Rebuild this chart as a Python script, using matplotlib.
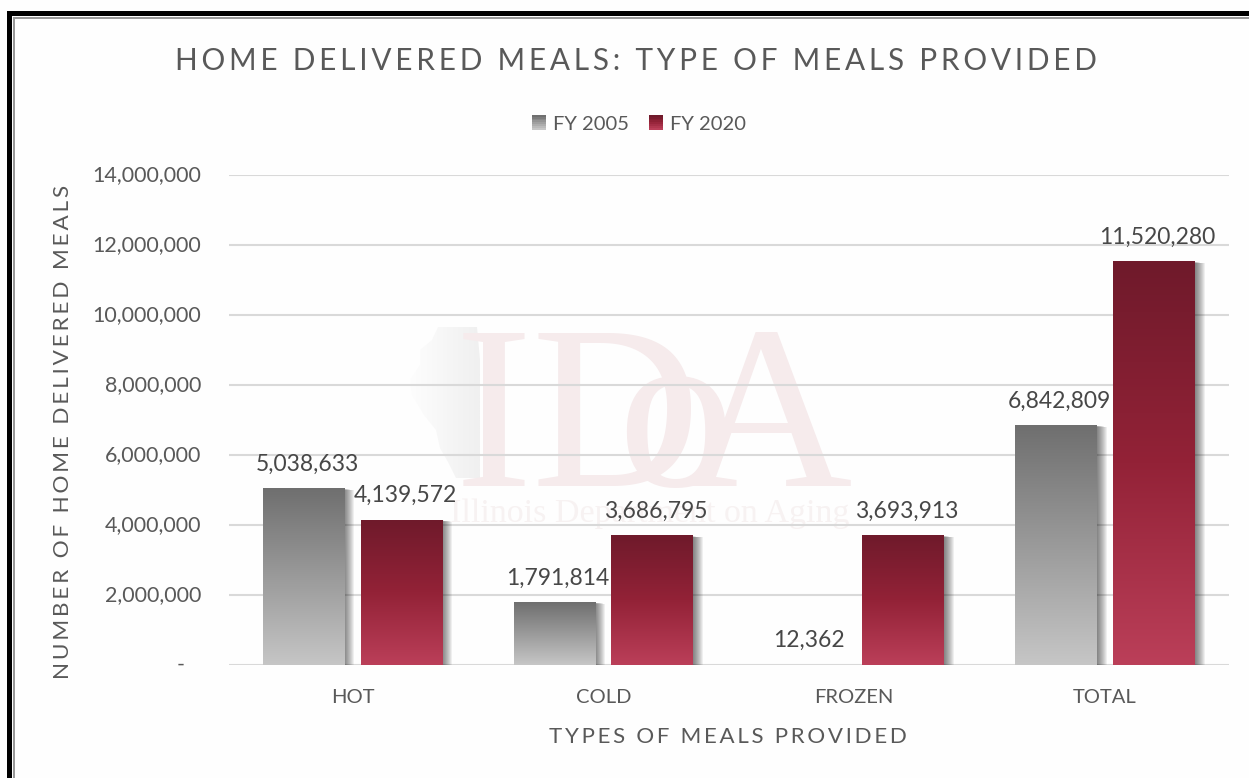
import numpy as np
import matplotlib
matplotlib.use("Agg")
import matplotlib.pyplot as plt
import matplotlib.patheffects as pe
from matplotlib.colors import LinearSegmentedColormap
from matplotlib.legend_handler import HandlerBase
from matplotlib.patches import Patch, Polygon, Rectangle
from matplotlib.ticker import FuncFormatter
from matplotlib.transforms import ScaledTranslation

plt.rcParams['font.family'] = ['Lato', 'DejaVu Sans']

# data
categories = ["HOT", "COLD", "FROZEN", "TOTAL"]
fy2005 = [5038633, 1791814, 12362, 6842809]
fy2020 = [4139572, 3686795, 3693913, 11520280]
y_ticks = [0, 2000000, 4000000, 6000000, 8000000, 10000000, 12000000, 14000000]

title = "HOME DELIVERED MEALS: TYPE OF MEALS PROVIDED"
x_title = "TYPES OF MEALS PROVIDED"
y_title = "NUMBER OF HOME DELIVERED MEALS"

gray_cmap = LinearSegmentedColormap.from_list("gray", ["#6f6f6f", "#9a9a9a", "#c6c6c6"])
red_cmap = LinearSegmentedColormap.from_list("red", ["#6f1a2b", "#932237", "#bb3f59"])

W, H = 1249, 778


def spaced(text, gap="\u2009"):
    # the chart has letter spacing, matplotlib has none
    return gap.join(text)


def fx(px):
    return px / W


def fy(px):
    return 1 - px / H


class GradientHandler(HandlerBase):
    def __init__(self, cmap):
        super().__init__()
        self.cmap = cmap

    def create_artists(self, legend, orig, xd, yd, width, height, fontsize, trans):
        n = 8
        return [Rectangle((-xd, -yd + height * (n - 1 - i) / n), width, height / n + 0.2,
                          facecolor=self.cmap(i / (n - 1)), lw=0, transform=trans)
                for i in range(n)]


def gradient_bars(ax, xs, values, width, cmap):
    grad = np.linspace(0, 1, 256).reshape(-1, 1)
    bars = ax.bar(xs, values, width, color=cmap(1.0), zorder=3)
    for b in bars:
        # the almost empty frozen bar stays a pale line
        if b.get_height() < 50000:
            b.set_alpha(0.4)
            continue
        # soft shadow to the right of the bar
        b.set_path_effects([pe.SimplePatchShadow(offset=(k * 0.72, -k * 0.1), shadow_rgbFace="#000000",
                                                 alpha=0.06) for k in range(10, 0, -1)] + [pe.Normal()])
        ax.imshow(grad, cmap=cmap, aspect="auto", zorder=4, vmin=0, vmax=1,
                  extent=(b.get_x(), b.get_x() + b.get_width(), 0, b.get_height()))
    return bars


fig = plt.figure(figsize=(W / 100, H / 100), dpi=100, facecolor="#fefefe")

# picture frame, open at the right and at the bottom
fig.add_artist(Rectangle((fx(7), 0), fx(5), fy(11), color="black", lw=0))
fig.add_artist(Rectangle((fx(7), fy(16)), 1, fy(11) - fy(16), color="black", lw=0))
fig.add_artist(Rectangle((fx(13), 0), fx(1.5), fy(17), color="#999999", lw=0))
fig.add_artist(Rectangle((fx(13), fy(18.5)), 1, fy(17) - fy(18.5), color="#999999", lw=0))

# watermark, the state fades out to the left
bg = fig.add_axes([0, 0, 1, 1], zorder=-1)
bg.set_xlim(0, W)
bg.set_ylim(H, 0)
bg.axis("off")
state = [(438, 327), (477, 327), (480, 360), (480, 478), (456, 478), (448, 462), (440, 448), (436, 430),
         (424, 415), (412, 395), (410, 380), (420, 365), (420, 350), (432, 340)]
state_patch = Polygon(state, closed=True, facecolor="none", lw=0)
bg.add_patch(state_patch)
fade = LinearSegmentedColormap.from_list("fade", ["#fdfdfd", "#f0f0f0"])
im = bg.imshow(np.linspace(0, 1, 64).reshape(1, -1), cmap=fade, aspect="auto", extent=(410, 480, 478, 327))
im.set_clip_path(state_patch)
bg.set_xlim(0, W)
bg.set_ylim(H, 0)
wm = dict(family="Liberation Serif", color="#f6ebec", ha="left", va="baseline", zorder=-1)
fig.text(fx(455), fy(486), "ID", fontsize=168, **wm)
fig.text(fx(617), fy(486), "o", fontsize=168, **wm)
fig.text(fx(684), fy(486), "A", fontsize=168, **wm)
fig.text(fx(450), fy(522), "Illinois Department on Aging", fontsize=24.5, family="Liberation Serif",
         color="#f7f2f2", ha="left", va="baseline", zorder=-1)

ax = fig.add_axes([fx(229), fy(665), fx(1000), fy(175) - fy(665)])
ax.patch.set_alpha(0)

x = np.arange(len(categories))
bar_w = 0.326
off = 0.195
gradient_bars(ax, x - off, fy2005, bar_w, gray_cmap)
gradient_bars(ax, x + off, fy2020, bar_w, red_cmap)

for xs, vals in [(x - off, fy2005), (x + off, fy2020)]:
    for xi, v in zip(xs, vals):
        ax.annotate(f"{v:,}", (xi, v), xytext=(2.5, 10), textcoords="offset points", ha="center", va="bottom",
                    fontsize=16.5, color="#474747", zorder=6)

ax.set_xlim(-0.4924, 3.494)
ax.set_ylim(0, 14000000)
ax.set_yticks(y_ticks)
ax.yaxis.set_major_formatter(FuncFormatter(lambda v, p: f"{int(v):,}" if v else "-   "))
ax.set_xticks(x, categories)
ax.grid(axis="y", color="#d9d9d9", linewidth=1.5, zorder=1)
ax.set_axisbelow(True)
ax.tick_params(axis="y", length=0, pad=20, labelsize=15.5, labelcolor="#595959")
ax.tick_params(axis="x", length=0, pad=17.5, labelsize=14.5, labelcolor="#595959")
for s in ax.spines.values():
    s.set_visible(False)
for lab in ax.get_yticklabels():
    lab.set_transform(lab.get_transform() + ScaledTranslation(0, 1.5 / 72, fig.dpi_scale_trans))

fig.text(fx(635.5), fy(61), spaced(title), fontsize=21.4, color="#595959", ha="center", va="center")
fig.text(fx(727.5), fy(737), spaced(x_title), fontsize=16, color="#595959", ha="center", va="center")
fig.text(fx(63), fy(431.5), spaced(y_title), fontsize=16.2, color="#595959", ha="center", va="center",
         rotation=90)

handles = [Patch(label="FY 2005"), Patch(label="FY 2020")]
fig.legend(handles=handles, loc="center", bbox_to_anchor=(fx(639), fy(124)), ncol=2, frameon=False,
           fontsize=14.5, labelcolor="#595959", handlelength=0.7, handleheight=0.7, handletextpad=0.35,
           columnspacing=1.0,
           handler_map={handles[0]: GradientHandler(gray_cmap), handles[1]: GradientHandler(red_cmap)})

fig.savefig("out.png", dpi=100, facecolor=fig.get_facecolor())
